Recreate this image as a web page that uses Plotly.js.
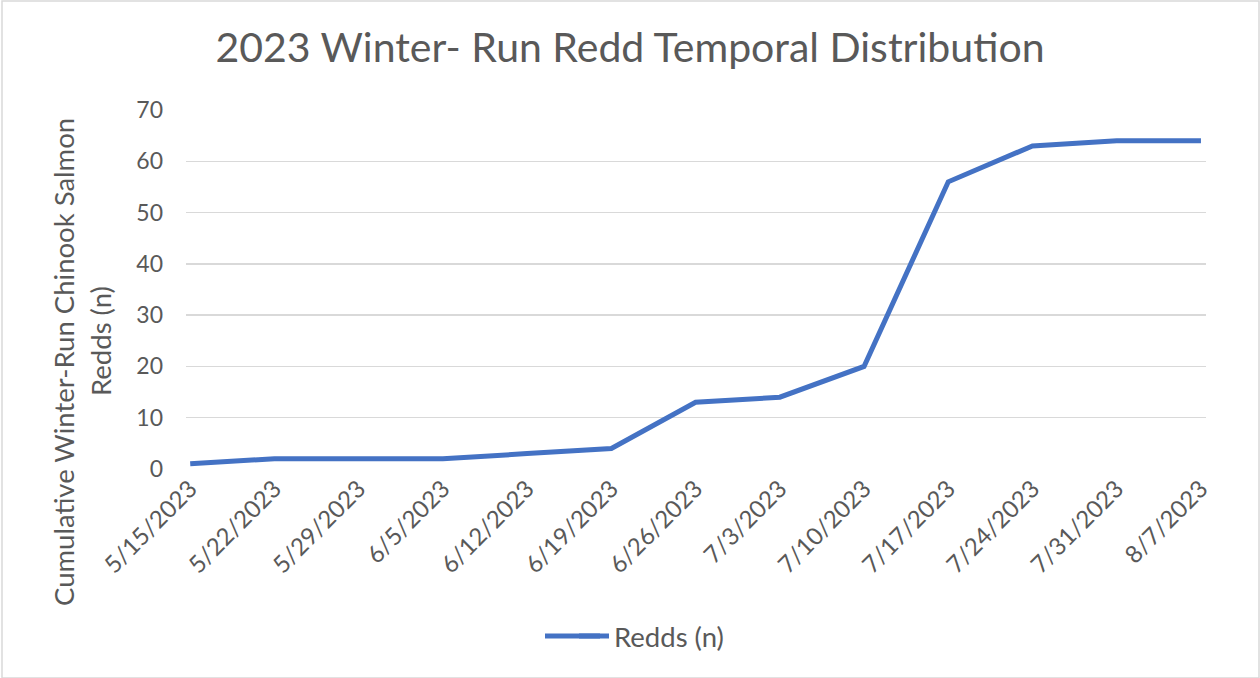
<!DOCTYPE html>
<html><head><meta charset="utf-8">
<script src="https://cdn.plot.ly/plotly-3.0.1.min.js"></script>
<style>html,body{margin:0;padding:0;background:#fff}#chart{width:1260px;height:678px}</style>
</head><body><div id="chart"></div>
<script>
const dates = ["5/15/2023","5/22/2023","5/29/2023","6/5/2023","6/12/2023","6/19/2023","6/26/2023","7/3/2023","7/10/2023","7/17/2023","7/24/2023","7/31/2023","8/7/2023"];
const redds = [1,2,2,2,3,4,13,14,20,56,63,64,64];
const seriesName = "Redds (n)";
const yTicks = [0,10,20,30,40,50,60,70];
const yTitleLines = ["Cumulative Winter-Run Chinook Salmon", "Redds (n)"];

const font = "Lato, 'Open Sans', sans-serif";
const W = 1020, H = 359, L = 186, B0 = 469;
const px = v => (v - L) / W, py = v => (B0 - v) / H;
Plotly.newPlot("chart", [{
  x: dates, y: redds, type: "scatter", mode: "lines", name: seriesName,
  line: {color: "#4472C4", width: 5}
}], {
  width: 1260, height: 678,
  margin: {l: 186, r: 54, t: 110, b: 209},
  paper_bgcolor: "#fff", plot_bgcolor: "#fff",
  font: {family: font, color: "#595959"},
  title: {text: "2023 Winter- Run Redd Temporal Distribution", x: 0.5, xanchor: "center", y: 0.93, yanchor: "middle", font: {size: 41, color: "#595959", family: font}},
  xaxis: {type: "category", range: [-0.05, 12.06], tickangle: -45, showgrid: false, zeroline: false, showline: false, ticks: "", tickfont: {size: 24, color: "#595959"}, automargin: false},
  yaxis: {range: [0, 70], tickvals: yTicks, showgrid: true, gridcolor: "#d9d9d9", gridwidth: 1.3, zeroline: false, showline: false, ticks: "", ticklen: 0, tickfont: {size: 23, color: "#595959"}, ticklabelstandoff: 22, automargin: false},
  annotations: [
    {text: yTitleLines[0], xref: "paper", yref: "paper", x: px(63), y: py(362), xanchor: "center", yanchor: "middle", textangle: -90, showarrow: false, font: {size: 27.5, color: "#595959"}},
    {text: yTitleLines[1], xref: "paper", yref: "paper", x: px(100), y: py(341), xanchor: "center", yanchor: "middle", textangle: -90, showarrow: false, font: {size: 27.5, color: "#595959"}}
  ],
  showlegend: true,
  legend: {orientation: "h", x: px(574), xanchor: "left", y: py(636), yanchor: "middle", bgcolor: "rgba(0,0,0,0)", font: {size: 27.5, color: "#595959"}},
  shapes: [
    {type: "rect", xref: "paper", yref: "paper", x0: px(2), x1: px(1259), y0: py(678), y1: py(1), line: {color: "#d9d9d9", width: 1.5}, fillcolor: "rgba(0,0,0,0)"},
    {type: "line", xref: "paper", yref: "paper", x0: px(545), x1: px(600), y0: py(636), y1: py(636), line: {color: "#4472C4", width: 5}}
  ]
}, {displayModeBar: false, staticPlot: true});
</script></body></html>
